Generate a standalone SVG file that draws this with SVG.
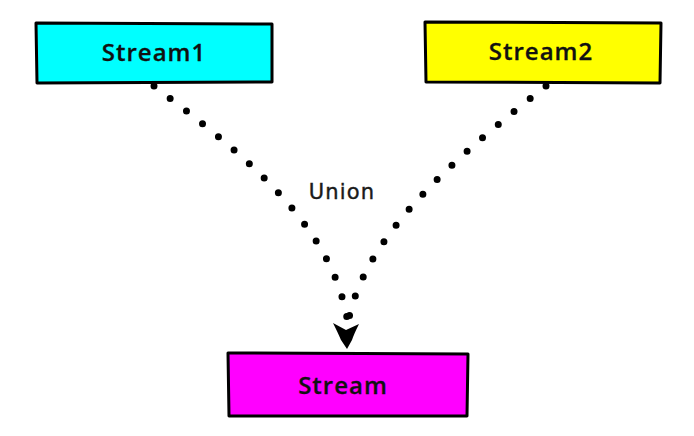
<svg xmlns="http://www.w3.org/2000/svg" width="694" height="436" viewBox="0 0 694 436">
<style>
.box{stroke:#000;stroke-width:3;stroke-linejoin:round}
.lbl{font-family:"Open Sans","Liberation Sans",Arial,sans-serif;font-weight:600;font-size:24px;letter-spacing:1px;fill:#111;stroke:#111;stroke-width:0.3;text-anchor:middle}
.dots{fill:none;stroke:#000;stroke-width:7;stroke-linecap:round;stroke-dasharray:0 20.5}
.edge{font-family:"DejaVu Sans",Verdana,sans-serif;font-size:21px;letter-spacing:1.2px;fill:#1a1a1a;stroke:#1a1a1a;stroke-width:0.4;text-anchor:middle}
</style>
<rect width="694" height="436" fill="#fff"/>
<g id="stream1">
<path class="box" fill="#00ffff" d="M36,23 L272,24 L272,82 L37,83 Z"/>
<text class="lbl" x="154" y="61">Stream1</text>
</g>
<g id="stream2">
<path class="box" fill="#ffff00" d="M425,22 L661,23 L660,83 L426,82 Z"/>
<text class="lbl" x="541" y="60">Stream2</text>
</g>
<g id="stream">
<path class="box" fill="#ff00ff" d="M228,353 L468,354 L467,416 L229,416 Z"/>
<text class="lbl" x="343" y="394">Stream</text>
</g>
<g id="connectors">
<path class="dots" d="M154,86 C235,148 330,220 347,318"/>
<path class="dots" d="M546,86 C468,148 368,228 349,318"/>
<path fill="#000" d="M333,323 L346,330 L359,324 Q354,334 352,340 L347,349 L341,340 Q338,333 333,323 Z"/>
<text class="edge" x="342" y="199">Union</text>
</g>
</svg>
